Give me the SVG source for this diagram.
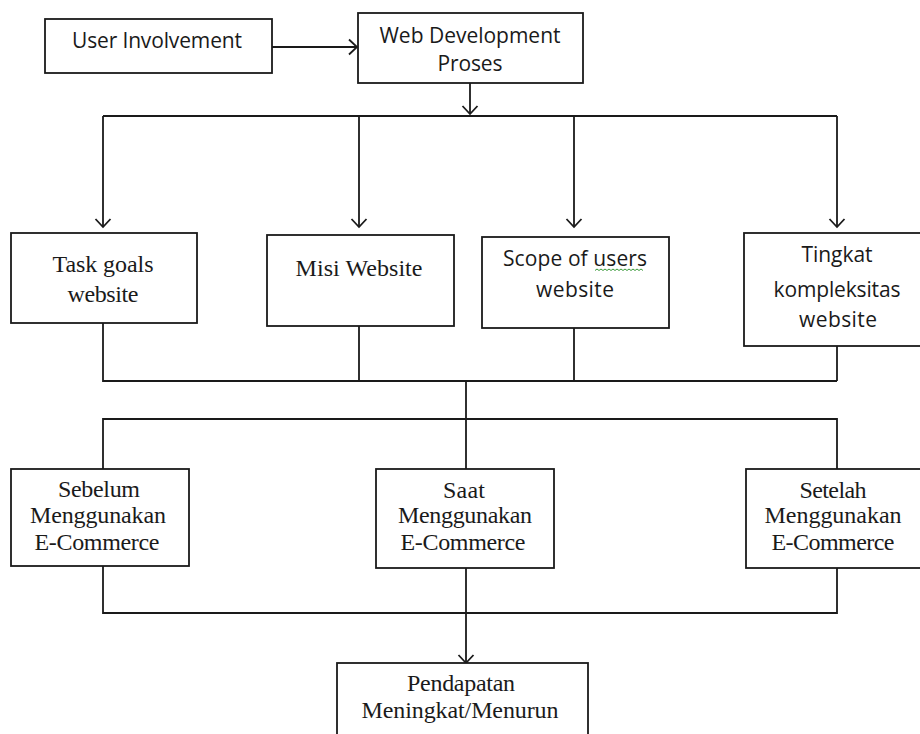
<svg xmlns="http://www.w3.org/2000/svg" width="920" height="734" viewBox="0 0 920 734">
<style>
  .box{fill:#fff;stroke:#1a1a1a;stroke-width:1.8}
  .ln{fill:none;stroke:#1a1a1a;stroke-width:1.8}
  .ss{font-family:"Open Sans","Noto Sans",sans-serif;font-size:21px;fill:#1a1a1a;text-anchor:middle}
  .sf{font-family:"Liberation Serif","Times New Roman",serif;font-size:24px;fill:#1a1a1a;text-anchor:middle}
</style>
<defs>
  <marker id="arr" markerUnits="userSpaceOnUse" markerWidth="20" markerHeight="20" refX="14" refY="10" orient="auto">
    <path d="M6,2.5 L14,10 L6,17.5" fill="none" stroke="#1a1a1a" stroke-width="1.8"/>
  </marker>
</defs>
<rect width="920" height="734" fill="#fff"/>
<g id="connectors">
  <path class="ln" d="M272,47 H357" marker-end="url(#arr)"/>
  <path class="ln" d="M470,83 V114" marker-end="url(#arr)"/>
  <path class="ln" d="M103,116 H837"/>
  <path class="ln" d="M103,116 V227" marker-end="url(#arr)"/>
  <path class="ln" d="M359,116 V227" marker-end="url(#arr)"/>
  <path class="ln" d="M574,116 V227" marker-end="url(#arr)"/>
  <path class="ln" d="M837,116 V227" marker-end="url(#arr)"/>
  <path class="ln" d="M103,323 V381 H837"/>
  <path class="ln" d="M359,326 V381"/>
  <path class="ln" d="M574,328 V381"/>
  <path class="ln" d="M837,346 V381"/>
  <path class="ln" d="M466,381 V469"/>
  <path class="ln" d="M103,469 V419 H837 V469"/>
  <path class="ln" d="M103,566 V613 H837 V568"/>
  <path class="ln" d="M466,568 V663" marker-end="url(#arr)"/>
</g>
<g id="user-involvement">
  <rect class="box" x="45" y="19" width="227" height="54"/>
  <text class="ss" x="157" y="48" textLength="170">User Involvement</text>
</g>
<g id="web-development">
  <rect class="box" x="358" y="13" width="225" height="70"/>
  <text class="ss" x="470" y="43" textLength="181">Web Development</text>
  <text class="ss" x="470" y="71" textLength="65">Proses</text>
</g>
<g id="task-goals">
  <rect class="box" x="11" y="233" width="186" height="90"/>
  <text class="sf" x="103" y="272" textLength="101">Task goals</text>
  <text class="sf" x="103" y="302" textLength="71">website</text>
</g>
<g id="misi-website">
  <rect class="box" x="267" y="235" width="187" height="91"/>
  <text class="sf" x="359" y="276" textLength="127">Misi Website</text>
</g>
<g id="scope-users">
  <rect class="box" x="482" y="237" width="187" height="91"/>
  <text class="ss" x="575" y="266" textLength="144">Scope of users</text>
  <path d="M595,270.5 l2,-1.5 l2,1.5 l2,-1.5 l2,1.5 l2,-1.5 l2,1.5 l2,-1.5 l2,1.5 l2,-1.5 l2,1.5 l2,-1.5 l2,1.5 l2,-1.5 l2,1.5 l2,-1.5 l2,1.5 l2,-1.5 l2,1.5 l2,-1.5 l2,1.5 l2,-1.5 l2,1.5 l2,-1.5 l2,1.5" fill="none" stroke="#3a9a3a" stroke-width="1"/>
  <text class="ss" x="575" y="297" textLength="78">website</text>
</g>
<g id="tingkat-kompleksitas">
  <rect class="box" x="744" y="233" width="185" height="113"/>
  <text class="ss" x="837" y="262" textLength="71">Tingkat</text>
  <text class="ss" x="837" y="297" textLength="127">kompleksitas</text>
  <text class="ss" x="838" y="327" textLength="78">website</text>
</g>
<g id="sebelum">
  <rect class="box" x="11" y="469" width="178" height="97"/>
  <text class="sf" x="99" y="497" textLength="82">Sebelum</text>
  <text class="sf" x="98" y="523" textLength="136">Menggunakan</text>
  <text class="sf" x="97" y="550" textLength="125">E-Commerce</text>
</g>
<g id="saat">
  <rect class="box" x="376" y="469" width="178" height="99"/>
  <text class="sf" x="464" y="498" textLength="42">Saat</text>
  <text class="sf" x="465" y="523" textLength="134">Menggunakan</text>
  <text class="sf" x="463" y="550" textLength="125">E-Commerce</text>
</g>
<g id="setelah">
  <rect class="box" x="746" y="469" width="185" height="99"/>
  <text class="sf" x="833" y="498" textLength="67">Setelah</text>
  <text class="sf" x="833" y="523" textLength="137">Menggunakan</text>
  <text class="sf" x="833" y="550" textLength="123">E-Commerce</text>
</g>
<g id="pendapatan">
  <rect class="box" x="337" y="663" width="251" height="80"/>
  <text class="sf" x="461" y="691" textLength="108">Pendapatan</text>
  <text class="sf" x="460" y="718" textLength="197">Meningkat/Menurun</text>
</g>
</svg>
